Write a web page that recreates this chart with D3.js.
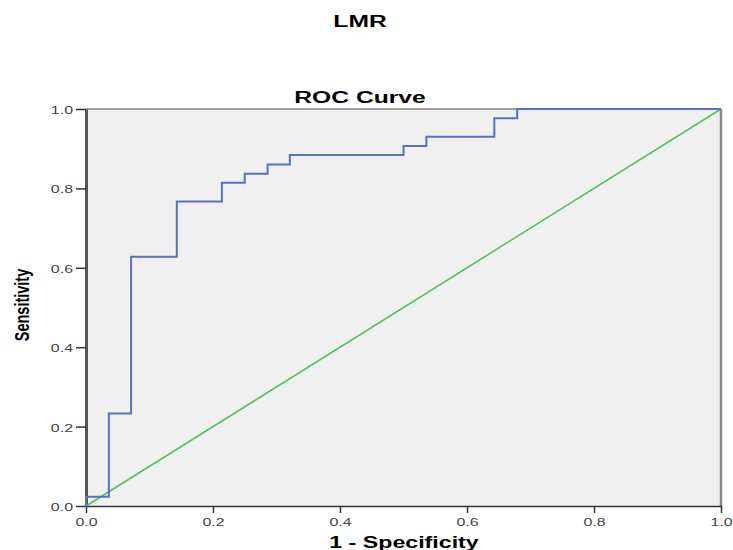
<!DOCTYPE html>
<html>
<head>
<meta charset="utf-8">
<script src="https://cdn.jsdelivr.net/npm/d3@7"></script>
<style>
  body { margin: 0; background: #fff; }
  text { font-family: Arial, "Liberation Sans", sans-serif; }
</style>
</head>
<body>
<div id="chart"></div>
<script>
// step points of the ROC curve (1 - specificity, sensitivity)
var fpr = [0, 0, 0.036, 0.036, 0.071, 0.071, 0.143, 0.143, 0.214, 0.214, 0.25, 0.25,
           0.286, 0.286, 0.321, 0.321, 0.5, 0.5, 0.536, 0.536, 0.643, 0.643, 0.679, 0.679, 1.0];
var tpr = [0, 0.023, 0.023, 0.233, 0.233, 0.628, 0.628, 0.767, 0.767, 0.814, 0.814, 0.837,
           0.837, 0.860, 0.860, 0.884, 0.884, 0.907, 0.907, 0.930, 0.930, 0.977, 0.977, 1.0, 1.0];
var refLine = [0, 1];
var tickValues = [0, 0.2, 0.4, 0.6, 0.8, 1.0];

var stretch = 1.45; // the original picture is squashed sideways

function init() {
    var w = 733;
    var h = 550;
    var left = 86, right = 721, top = 109, bottom = 506;

    var svg = d3.select("#chart")
                .append("svg")
                .attr("width", w)
                .attr("height", h);

    var x = d3.scaleLinear().domain([0, 1]).range([left, right]);
    var y = d3.scaleLinear().domain([0, 1]).range([bottom, top]);

    svg.append("rect")
       .attr("x", left).attr("y", top)
       .attr("width", right - left).attr("height", bottom - top)
       .attr("fill", "#f0f0f0");

    // frame
    svg.append("line").attr("x1", left).attr("x2", right).attr("y1", top).attr("y2", top)
       .attr("stroke", "#444").attr("stroke-width", 1.2);
    svg.append("line").attr("x1", right).attr("x2", right).attr("y1", top).attr("y2", bottom)
       .attr("stroke", "#888").attr("stroke-width", 2.5);

    var xAxis = d3.axisBottom(x).tickValues(tickValues).tickFormat(d3.format(".1f"))
                  .tickSizeOuter(0).tickSizeInner(7).tickPadding(3);
    var yAxis = d3.axisLeft(y).tickValues(tickValues).tickFormat(d3.format(".1f"))
                  .tickSizeOuter(0).tickSizeInner(10).tickPadding(3);

    var gx = svg.append("g").attr("transform", "translate(0," + bottom + ")").call(xAxis);
    gx.select(".domain").attr("stroke", "#333").attr("stroke-width", 1.5);
    gx.selectAll(".tick line").attr("stroke", "#333").attr("stroke-width", 1.5);
    gx.selectAll(".tick text").attr("fill", "#444").style("font-size", "11px")
      .attr("transform", "translate(0,2) scale(" + stretch + ",1)");

    var gy = svg.append("g").attr("transform", "translate(" + left + ",0)").call(yAxis);
    gy.select(".domain").attr("stroke", "#555").attr("stroke-width", 3);
    gy.selectAll(".tick line").attr("stroke", "#333").attr("stroke-width", 1.5);
    gy.selectAll(".tick text").attr("fill", "#444").style("font-size", "11px")
      .attr("x", null).attr("dy", "0.4em")
      .attr("transform", "translate(-13,0) scale(" + stretch + ",1)");

    // reference diagonal
    svg.append("line")
       .attr("x1", x(refLine[0])).attr("y1", y(refLine[0]))
       .attr("x2", x(refLine[1])).attr("y2", y(refLine[1]))
       .attr("stroke", "#55c060").attr("stroke-width", 1.6);

    var line = d3.line()
                 .x(function(d, i) { return x(fpr[i]); })
                 .y(function(d, i) { return y(tpr[i]); });

    svg.append("path")
       .attr("d", line(fpr))
       .attr("fill", "none")
       .attr("stroke", "#5870c0")
       .attr("stroke-width", 2);

    function wideText(str, cx, cy, size) {
        svg.append("text").text(str)
           .attr("transform", "translate(" + cx + "," + cy + ") scale(" + stretch + ",1)")
           .attr("text-anchor", "middle")
           .style("font-size", size + "px").style("font-weight", "bold");
    }
    wideText("LMR", 360, 27, 17);
    wideText("ROC Curve", 360, 103, 17);
    wideText("1 - Specificity", 404, 548, 16);

    svg.append("text").text("Sensitivity")
       .attr("transform", "translate(29,305) rotate(-90) scale(1," + stretch + ")")
       .attr("text-anchor", "middle")
       .style("font-size", "14.5px").style("font-weight", "bold");
}
window.onload = init;
</script>
</body>
</html>
